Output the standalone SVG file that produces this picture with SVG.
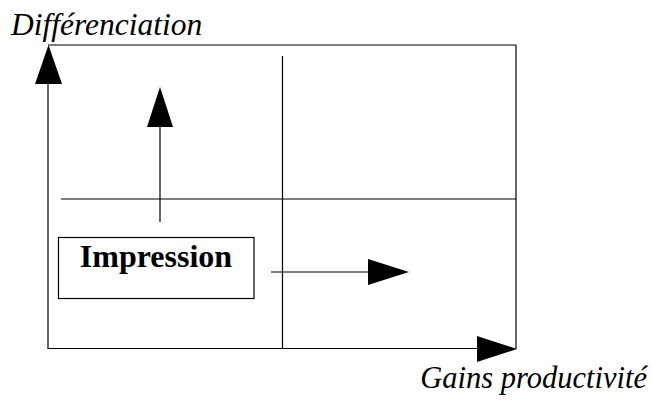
<svg xmlns="http://www.w3.org/2000/svg" width="652" height="401" viewBox="0 0 652 401">
<style>
.ln{stroke:#000;stroke-width:1.2;fill:none}
.ah{fill:#000;stroke:none}
text{font-family:"Liberation Serif","Times New Roman",serif;fill:#000}
.lbl{font-style:italic}
.nt{font-weight:bold;font-size:32px}
</style>
<rect width="652" height="401" fill="#fff"/>
<g id="connectors">
<line class="ln" x1="48" y1="45" x2="516" y2="45"/>
<line class="ln" x1="516" y1="45" x2="516" y2="349"/>
<line class="ln" x1="48" y1="80" x2="48" y2="349"/>
<polygon class="ah" points="48.5,45 35,84 62,84"/>
<line class="ln" x1="48" y1="348.5" x2="480" y2="348.5"/>
<polygon class="ah" points="517,349 477,336 477,362"/>
<line class="ln" x1="282.5" y1="56" x2="282.5" y2="349"/>
<line class="ln" x1="61" y1="199" x2="516" y2="199"/>
<line class="ln" x1="160" y1="125" x2="160" y2="222"/>
<polygon class="ah" points="160,87 147,127 173,127"/>
<line class="ln" x1="271" y1="272" x2="372" y2="272"/>
<polygon class="ah" points="409,272 368,259 368,285"/>
</g>
<g id="axis-y"><text class="lbl" x="11" y="35" font-size="31.5">Différenciation</text></g>
<g id="axis-x"><text class="lbl" x="647" y="388" text-anchor="end" font-size="30.5">Gains productivité</text></g>
<g id="impression">
<rect x="58.5" y="237.5" width="195.5" height="61" fill="none" stroke="#000" stroke-width="1.2"/>
<text class="nt" x="156" y="267" text-anchor="middle">Impression</text>
</g>
</svg>
